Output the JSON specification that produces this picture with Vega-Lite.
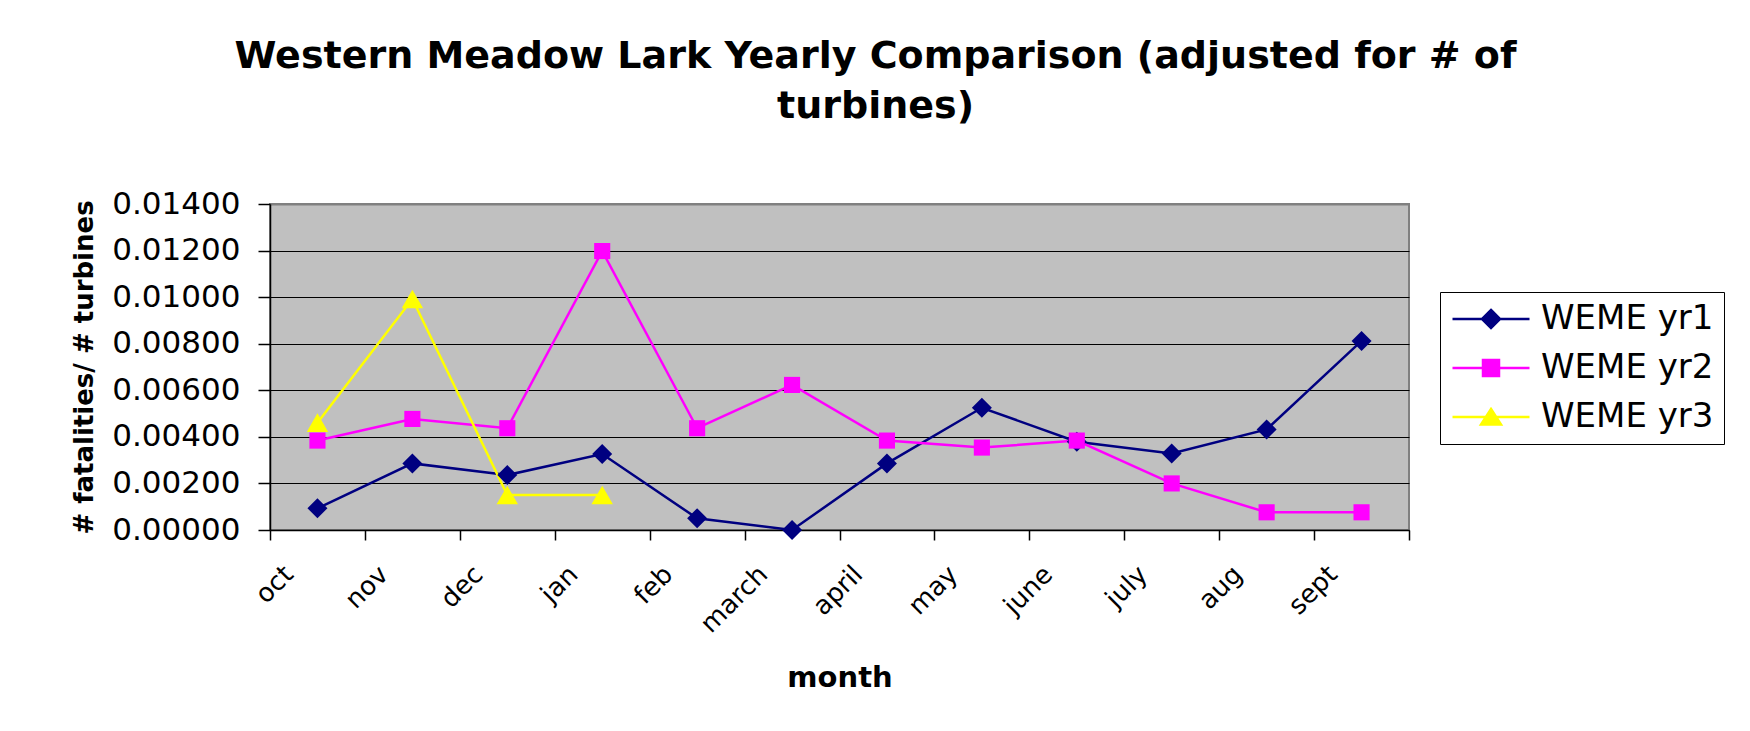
{
  "$schema": "https://vega.github.io/schema/vega-lite/v6.json",
  "autosize": "none",
  "padding": {"left": 270, "top": 204, "right": 341, "bottom": 201},
  "width": 1139,
  "height": 326,
  "background": "white",
  "title": {
    "text": ["Western Meadow Lark Yearly Comparison (adjusted for # of", "turbines)"],
    "font": "DejaVu Sans",
    "fontSize": 38,
    "fontWeight": "bold",
    "color": "black",
    "lineHeight": 50,
    "anchor": "middle",
    "frame": "group",
    "dx": 36,
    "offset": 62
  },
  "data": {
    "values": [
      {"month": "oct", "series": "WEME yr1", "value": 0.00093},
      {"month": "nov", "series": "WEME yr1", "value": 0.00286},
      {"month": "dec", "series": "WEME yr1", "value": 0.00236},
      {"month": "jan", "series": "WEME yr1", "value": 0.00326},
      {"month": "feb", "series": "WEME yr1", "value": 0.0005},
      {"month": "march", "series": "WEME yr1", "value": 0.0},
      {"month": "april", "series": "WEME yr1", "value": 0.00286},
      {"month": "may", "series": "WEME yr1", "value": 0.00525},
      {"month": "june", "series": "WEME yr1", "value": 0.00379},
      {"month": "july", "series": "WEME yr1", "value": 0.00329},
      {"month": "aug", "series": "WEME yr1", "value": 0.00432},
      {"month": "sept", "series": "WEME yr1", "value": 0.00812},
      {"month": "oct", "series": "WEME yr2", "value": 0.00384},
      {"month": "nov", "series": "WEME yr2", "value": 0.00477},
      {"month": "dec", "series": "WEME yr2", "value": 0.00437},
      {"month": "jan", "series": "WEME yr2", "value": 0.01198},
      {"month": "feb", "series": "WEME yr2", "value": 0.00437},
      {"month": "march", "series": "WEME yr2", "value": 0.00623},
      {"month": "april", "series": "WEME yr2", "value": 0.00384},
      {"month": "may", "series": "WEME yr2", "value": 0.00354},
      {"month": "june", "series": "WEME yr2", "value": 0.00384},
      {"month": "july", "series": "WEME yr2", "value": 0.002},
      {"month": "aug", "series": "WEME yr2", "value": 0.00076},
      {"month": "sept", "series": "WEME yr2", "value": 0.00076},
      {"month": "oct", "series": "WEME yr3", "value": 0.00461},
      {"month": "nov", "series": "WEME yr3", "value": 0.00992},
      {"month": "dec", "series": "WEME yr3", "value": 0.0015},
      {"month": "jan", "series": "WEME yr3", "value": 0.0015}
    ]
  },
  "encoding": {
    "x": {
      "field": "month",
      "type": "nominal",
      "sort": ["oct", "nov", "dec", "jan", "feb", "march", "april", "may", "june", "july", "aug", "sept"],
      "scale": {"type": "band", "paddingInner": 0, "paddingOuter": 0},
      "axis": {
        "title": "month",
        "titleFont": "DejaVu Sans",
        "titleFontSize": 29,
        "titleFontWeight": "bold",
        "titleColor": "black",
        "titlePadding": 26,
        "labelAngle": -45,
        "labelAlign": "right",
        "labelBaseline": "middle",
        "labelFont": "DejaVu Sans",
        "labelFontSize": 26,
        "labelColor": "black",
        "labelOffset": -29,
        "labelPadding": 30,
        "tickBand": "extent",
        "tickSize": 10,
        "tickColor": "black",
        "tickWidth": 1.5,
        "domainColor": "black",
        "domainWidth": 1.5,
        "grid": false
      }
    },
    "y": {
      "field": "value",
      "type": "quantitative",
      "scale": {"domain": [0, 0.014], "nice": false},
      "axis": {
        "title": "# fatalities/ # turbines",
        "titleFont": "DejaVu Sans",
        "titleFontSize": 26,
        "titleFontWeight": "bold",
        "titleColor": "black",
        "titlePadding": 14,
        "values": [0, 0.002, 0.004, 0.006, 0.008, 0.01, 0.012, 0.014],
        "format": ".5f",
        "labelFont": "DejaVu Sans",
        "labelFontSize": 31,
        "labelColor": "black",
        "labelPadding": 18,
        "tickSize": 12,
        "tickColor": "black",
        "tickWidth": 1.5,
        "domainColor": "black",
        "domainWidth": 1.5,
        "grid": true,
        "gridColor": {"condition": {"test": "datum.value >= 0.0139", "value": "#808080"}, "value": "black"},
        "gridWidth": {"condition": {"test": "datum.value >= 0.0139", "value": 2}, "value": 1.2}
      }
    },
    "color": {
      "field": "series",
      "type": "nominal",
      "scale": {"domain": ["WEME yr1", "WEME yr2", "WEME yr3"], "range": ["#000080", "#FF00FF", "#FFFF00"]},
      "legend": {
        "title": null,
        "orient": "none",
        "legendX": 1170,
        "legendY": 88,
        "strokeColor": "black",
        "fillColor": "white",
        "padding": 10,
        "rowPadding": 15,
        "labelFont": "DejaVu Sans",
        "labelFontSize": 34,
        "labelColor": "black",
        "labelLimit": 400,
        "symbolSize": 400,
        "symbolOffset": 24,
        "labelOffset": 33,
        "symbolStrokeWidth": 2,
        "encode": {
          "symbols": {
            "update": {
              "shape": {"signal": "datum.value == 'WEME yr1' ? 'M-3.85,0H3.85M0,-0.9L0.9,0L0,0.9L-0.9,0Z' : datum.value == 'WEME yr2' ? 'M-3.85,0H3.85M-0.8,-0.8H0.8V0.8H-0.8Z' : 'M-3.85,0H3.85M0,-0.8L1,0.75H-1Z'"},
              "fill": {"signal": "scale('color', datum.value)"},
              "stroke": {"signal": "scale('color', datum.value)"},
              "strokeWidth": {"value": 2.5},
              "opacity": {"value": 1},
              "fillOpacity": {"value": 1}
            }
          }
        }
      }
    }
  },
  "layer": [
    {
      "mark": {"type": "line", "strokeWidth": 2.5}
    },
    {
      "transform": [{"filter": "datum.series == 'WEME yr1'"}],
      "mark": {"type": "point", "shape": "diamond", "size": 400, "filled": true, "opacity": 1, "strokeWidth": 0}
    },
    {
      "transform": [{"filter": "datum.series == 'WEME yr2'"}],
      "mark": {"type": "point", "shape": "square", "size": 260, "filled": true, "opacity": 1, "strokeWidth": 0}
    },
    {
      "transform": [{"filter": "datum.series == 'WEME yr3'"}],
      "mark": {"type": "point", "shape": "triangle-up", "size": 460, "filled": true, "opacity": 1, "strokeWidth": 0}
    }
  ],
  "config": {
    "view": {"fill": "#C0C0C0", "stroke": "#808080", "strokeWidth": 2}
  }
}
